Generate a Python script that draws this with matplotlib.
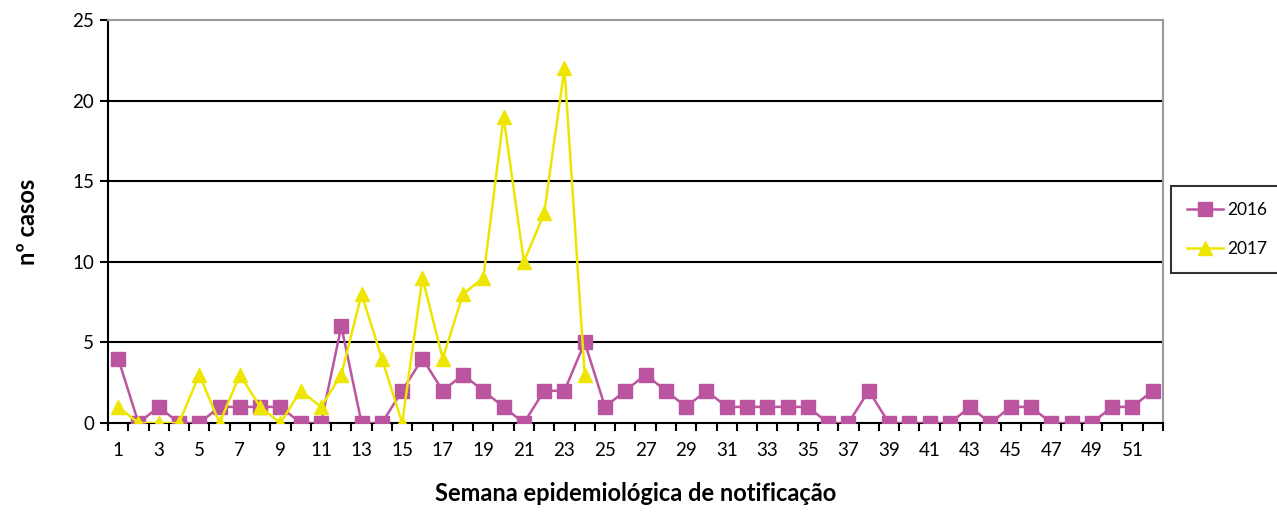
import numpy as np
import matplotlib
matplotlib.use("Agg")
import matplotlib.pyplot as plt
from matplotlib.ticker import MultipleLocator, FixedLocator

plt.rcParams['font.family'] = ['Lato', 'DejaVu Sans']

# --dados
semanas_2016 = list(range(1, 53))
casos_2016 = [4, 0, 1, 0, 0, 1, 1, 1, 1, 0, 0, 6, 0, 0, 2, 4, 2, 3, 2, 1,
              0, 2, 2, 5, 1, 2, 3, 2, 1, 2, 1, 1, 1, 1, 1, 0, 0, 2, 0, 0,
              0, 0, 1, 0, 1, 1, 0, 0, 0, 1, 1, 2]
semanas_2017 = list(range(1, 25))
casos_2017 = [1, 0, 0, 0, 3, 0, 3, 1, 0, 2, 1, 3, 8, 4, 0, 9, 4, 8, 9, 19,
              10, 13, 22, 3]
rotulos_x = [str(s) for s in range(1, 53, 2)]

cor_2016 = '#BB55A0'
cor_2017 = '#EEE600'

fig = plt.figure(figsize=(12.77, 5.14), dpi=100)
ax = fig.add_axes([0.0846, 0.177, 0.826, 0.784])

ax.plot(semanas_2016, casos_2016, color=cor_2016, lw=1.8, marker='s',
        ms=9.5, label='2016', zorder=3)
ax.plot(semanas_2017, casos_2017, color=cor_2017, lw=1.8, marker='^',
        ms=10, label='2017', zorder=4)

# --eixos
ax.set_xlim(0.5, 52.5)
ax.set_ylim(0, 25)
ax.yaxis.set_major_locator(MultipleLocator(5))
ax.xaxis.set_major_locator(FixedLocator(range(1, 53, 2)))
ax.set_xticklabels(rotulos_x)
ax.xaxis.set_minor_locator(FixedLocator(np.arange(0.5, 53, 1)))
ax.tick_params(axis='x', which='major', length=0, labelsize=13.5, pad=14)
ax.tick_params(axis='x', which='minor', length=6, width=1.5, direction='out')
ax.tick_params(axis='y', length=6, width=1.5, direction='out', labelsize=13.5, pad=4)

for v in [5, 10, 15, 20]:
    ax.axhline(v, color='black', lw=1.5, zorder=1)

ax.spines['left'].set_linewidth(1.5)
ax.spines['bottom'].set_linewidth(1.5)
ax.spines['top'].set_color('#999999')
ax.spines['right'].set_color('#999999')
ax.spines['top'].set_linewidth(1.5)
ax.spines['right'].set_linewidth(1.5)

ax.set_ylabel('nº casos', fontsize=17, fontweight='bold', labelpad=24)
ax.set_xlabel('Semana epidemiológica de notificação', fontsize=17,
              fontweight='bold', labelpad=16)

leg = ax.legend(loc='center left', bbox_to_anchor=(1.008, 0.48),
                fontsize=12.5, frameon=True, fancybox=False,
                edgecolor='black', borderpad=0.9, labelspacing=1.35,
                handlelength=2.1, handletextpad=0.2, borderaxespad=0)
leg.get_frame().set_linewidth(1.5)

fig.savefig('out.png', dpi=100)
